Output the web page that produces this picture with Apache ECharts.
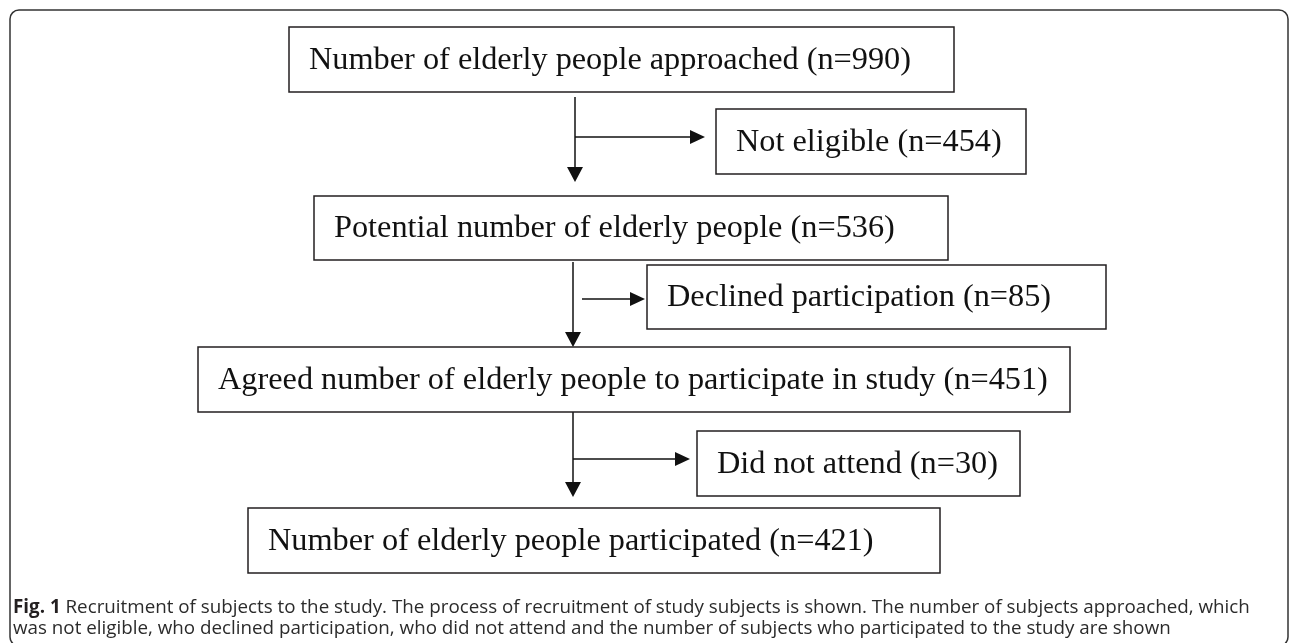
<!DOCTYPE html>
<html>
<head>
<meta charset="utf-8">
<title>Recruitment flow</title>
<script src="https://cdn.jsdelivr.net/npm/echarts@6/dist/echarts.min.js"></script>
<style>
  html, body { margin: 0; padding: 0; background: #fff; }
  #chart { width: 1290px; height: 643px; }
</style>
</head>
<body>
<div id="chart"></div>
<script>
// stages of the recruitment flow
const mainStages = [
  "Number of elderly people approached",
  "Potential number of elderly people",
  "Agreed number of elderly people to participate in study",
  "Number of elderly people participated"
];
const mainCounts = [990, 536, 451, 421];

const exclusionStages = ["Not eligible", "Declined participation", "Did not attend"];
const exclusionCounts = [454, 85, 30];

// layout in page units: [left, top, right, bottom]
const mainBoxes = [
  [289, 27, 954, 92],
  [314, 196, 948, 260],
  [198, 347, 1070, 412],
  [248, 508, 940, 573]
];
const exclusionBoxes = [
  [716, 109, 1026, 174],
  [647, 265, 1106, 329],
  [697, 431, 1020, 496]
];
// [x, yFrom, yTo, branchY, branchXFrom, branchXTo]
const arrowPaths = [
  [575, 97, 182, 137, 575, 705],
  [573, 262, 347, 299, 582, 645],
  [573, 412, 497, 459, 573, 690]
];

const caption = [
  "{b|Fig. 1} Recruitment of subjects to the study. The process of recruitment of study subjects is shown. The number of subjects approached, which",
  "was not eligible, who declined participation, who did not attend and the number of subjects who participated to the study are shown"
];

const boxData = mainBoxes
  .map((b, i) => [...b, mainStages[i] + " (n=" + mainCounts[i] + ")"])
  .concat(exclusionBoxes.map((b, i) => [...b, exclusionStages[i] + " (n=" + exclusionCounts[i] + ")"]));

const chart = echarts.init(document.getElementById("chart"));

const renderBox = (params, api) => {
  const p0 = api.coord([api.value(0), api.value(1)]);
  const p1 = api.coord([api.value(2), api.value(3)]);
  const label = boxData[params.dataIndex][4];
  return {
    type: "group",
    children: [
      {
        type: "rect",
        shape: { x: p0[0], y: p0[1], width: p1[0] - p0[0], height: p1[1] - p0[1] },
        style: { fill: "#fff", stroke: "#231f20", lineWidth: 1.5 }
      },
      {
        type: "text",
        x: p0[0] + 20,
        y: (p0[1] + p1[1]) / 2 + 1,
        style: {
          text: label,
          fill: "#111",
          font: "32.3px 'Liberation Serif'",
          verticalAlign: "middle",
          align: "left"
        }
      }
    ]
  };
};

const renderArrow = (params, api) => {
  const top = api.coord([api.value(0), api.value(1)]);
  const tip = api.coord([api.value(0), api.value(2)]);
  const bStart = api.coord([api.value(4), api.value(3)]);
  const bTip = api.coord([api.value(5), api.value(3)]);
  const lineStyle = { stroke: "#111", lineWidth: 1.5 };
  return {
    type: "group",
    children: [
      { type: "line", shape: { x1: top[0], y1: top[1], x2: tip[0], y2: tip[1] - 14 }, style: lineStyle },
      {
        type: "polygon",
        shape: { points: [[tip[0] - 8, tip[1] - 15], [tip[0] + 8, tip[1] - 15], [tip[0], tip[1]]] },
        style: { fill: "#111" }
      },
      { type: "line", shape: { x1: bStart[0], y1: bStart[1], x2: bTip[0] - 14, y2: bTip[1] }, style: lineStyle },
      {
        type: "polygon",
        shape: { points: [[bTip[0] - 15, bTip[1] - 7], [bTip[0] - 15, bTip[1] + 7], [bTip[0], bTip[1]]] },
        style: { fill: "#111" }
      }
    ]
  };
};

const option = {
  animation: false,
  title: {
    left: 13,
    top: 597,
    padding: 0,
    text: caption.join("\n"),
    textStyle: {
      fontFamily: "Open Sans",
      fontSize: 18.8,
      fontWeight: "normal",
      color: "#2b2b2b",
      lineHeight: 21,
      rich: {
        b: { fontFamily: "Open Sans", fontSize: 18.8, fontWeight: "bold", color: "#231f20", lineHeight: 21 }
      }
    }
  },
  grid: { left: 0, right: 0, top: 0, bottom: 0 },
  xAxis: { type: "value", min: 0, max: 1290, show: false },
  yAxis: { type: "value", min: 0, max: 643, inverse: true, show: false },
  graphic: [
    {
      type: "rect",
      shape: { x: 10, y: 10, width: 1278, height: 636, r: 9 },
      style: { fill: "none", stroke: "#333", lineWidth: 1.5 },
      silent: true
    }
  ],
  series: [
    {
      type: "custom",
      renderItem: renderArrow,
      data: arrowPaths,
      silent: true
    },
    {
      type: "custom",
      renderItem: renderBox,
      data: boxData.map((d) => d.slice(0, 4)),
      silent: true
    }
  ]
};

chart.setOption(option);
window.addEventListener("resize", () => chart.resize());
</script>
</body>
</html>
